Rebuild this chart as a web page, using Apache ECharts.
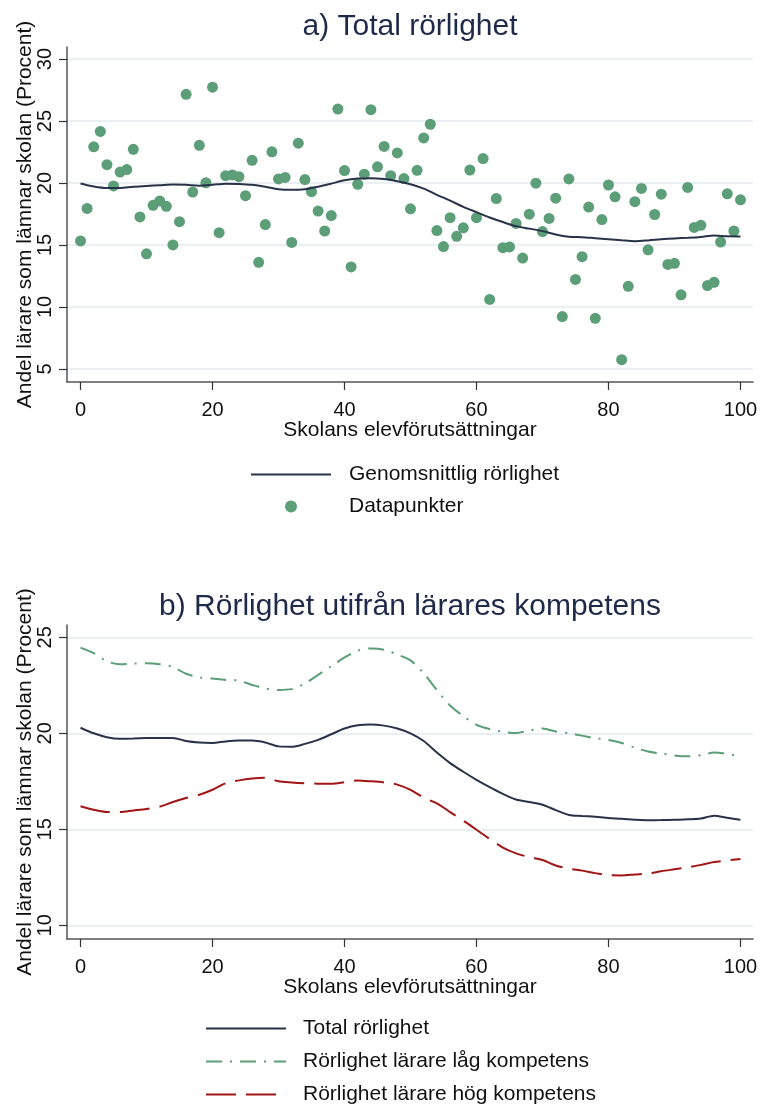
<!DOCTYPE html>
<html>
<head>
    <meta charset="utf-8" />
    <title></title>
    <script src="https://cdn.jsdelivr.net/npm/echarts@6/dist/echarts.min.js"></script>
    <style>
        html, body { margin: 0; padding: 0; background: #fff; }
    </style>
</head>
<body>
    <div id="main" style="width: 760px; height: 1106px;"></div>
    <script type="text/javascript">
        // värden
        var xTicks = [0, 20, 40, 60, 80, 100];
        var yTicksA = [5, 10, 15, 20, 25, 30];
        var yTicksB = [10, 15, 20, 25];

        // a) datapunkter, en skola per x-värde 0..100
        var punkterX = [];
        for (var i = 0; i <= 100; i++) punkterX.push(i);
        var punkterY = [
            15.33, 17.95, 22.92, 24.16, 21.48, 19.76, 20.88, 21.08, 22.72, 17.26,
            14.29, 18.2, 18.55, 18.12, 15.01, 16.88, 27.15, 19.27, 23.04, 20.02,
            27.73, 15.99, 20.59, 20.65, 20.51, 18.98, 21.83, 13.6, 16.65, 22.52,
            20.33, 20.45, 15.21, 23.21, 20.28, 19.3, 17.74, 16.13, 17.37, 25.97,
            21.0, 13.23, 19.9, 20.71, 25.91, 21.31, 22.95, 20.59, 22.43, 20.36,
            17.92, 21.02, 23.64, 24.74, 16.16, 14.87, 17.2, 15.7, 16.39, 21.05,
            17.2, 21.97, 10.61, 18.75, 14.78, 14.84, 16.74, 13.95, 17.49, 19.99,
            16.08, 17.14, 18.78, 9.23, 20.33, 12.22, 14.06, 18.06, 9.09, 17.05,
            19.84, 18.89, 5.75, 11.67, 18.49, 19.56, 14.61, 17.46, 19.1, 13.43,
            13.52, 10.98, 19.64, 16.42, 16.59, 11.73, 11.99, 15.24, 19.13, 16.13,
            18.64
        ];

        // linjer, x i steg om 2
        var linjeX = [];
        for (var j = 0; j <= 100; j += 2) linjeX.push(j);
        var snittA = [
            19.96, 19.72, 19.6, 19.6, 19.7, 19.76, 19.82, 19.88, 19.85, 19.78,
            19.85, 19.95, 19.92, 19.85, 19.7, 19.5, 19.45, 19.5, 19.7, 19.95,
            20.22, 20.36, 20.39, 20.32, 20.15, 19.9, 19.55, 19.05, 18.58, 18.08,
            17.65, 17.22, 16.85, 16.52, 16.32, 16.12, 15.85, 15.67, 15.63, 15.55,
            15.47, 15.38, 15.31, 15.37, 15.46, 15.53, 15.58, 15.65, 15.77, 15.7,
            15.69
        ];
        var totalB = [
            20.29, 20.0, 19.8, 19.72, 19.73, 19.75, 19.76, 19.76, 19.6, 19.52,
            19.5, 19.58, 19.62, 19.62, 19.52, 19.32, 19.3, 19.45, 19.66, 19.95,
            20.25, 20.42, 20.46, 20.4, 20.25, 20.0, 19.6, 19.0, 18.45, 18.0,
            17.58, 17.2, 16.85, 16.55, 16.42, 16.28, 16.0, 15.75, 15.7, 15.65,
            15.59, 15.55, 15.5, 15.47, 15.48, 15.5, 15.52, 15.56, 15.71, 15.6,
            15.5
        ];
        var lagB = [
            24.46, 24.17, 23.75, 23.6, 23.63, 23.65, 23.6, 23.45, 23.1, 22.92,
            22.85, 22.78, 22.74, 22.52, 22.33, 22.26, 22.3, 22.6, 23.04, 23.5,
            23.95, 24.3, 24.42, 24.35, 24.1, 23.8, 23.13, 22.25, 21.45, 20.9,
            20.44, 20.22, 20.08, 20.02, 20.15, 20.25, 20.1, 20.0, 19.88, 19.75,
            19.65, 19.5, 19.25, 19.05, 18.95, 18.85, 18.8, 18.86, 19.0, 18.92,
            18.8
        ];
        var hogB = [
            16.2, 16.02, 15.9, 15.9, 15.98, 16.06, 16.18, 16.42, 16.63, 16.8,
            17.06, 17.4, 17.55, 17.65, 17.69, 17.5, 17.44, 17.4, 17.38, 17.37,
            17.45, 17.54, 17.5, 17.44, 17.33, 17.05, 16.65, 16.35, 15.9, 15.45,
            14.98, 14.5, 14.05, 13.75, 13.55, 13.4, 13.12, 12.95, 12.85, 12.72,
            12.61, 12.6, 12.65, 12.7, 12.82, 12.92, 13.02, 13.15, 13.3, 13.38,
            13.46
        ];

        function par(xs, ys) {
            var out = [];
            for (var k = 0; k < xs.length; k++) out.push([xs[k], ys[k]]);
            return out;
        }

        var navy = '#283248';
        var gron = '#5b9e78';
        var rod = '#a01414';
        var font = '"Liberation Sans", Arial, sans-serif';
        // ingen markör i legendens linjeikon
        var utanMarkor = { color: 'rgba(0,0,0,0)', borderWidth: 0, opacity: 0 };

        function xAxel(gridIndex) {
            return {
                gridIndex: gridIndex,
                type: 'value',
                min: -2.05,
                max: 101.9,
                name: 'Skolans elevförutsättningar',
                nameLocation: 'middle',
                nameGap: 38,
                nameMoveOverlap: false,
                nameTextStyle: { fontSize: 21, color: '#111', fontFamily: font },
                axisLine: { show: true, onZero: false, lineStyle: { color: '#555', width: 1.5 } },
                axisTick: { show: true, customValues: xTicks, length: 8, lineStyle: { color: '#333', width: 1.2 } },
                axisLabel: { customValues: xTicks, fontSize: 20, color: '#111', margin: 18, fontFamily: font },
                splitLine: { show: false }
            };
        }

        function yAxel(gridIndex, min, max, ticks) {
            return {
                gridIndex: gridIndex,
                type: 'value',
                min: min,
                max: max,
                name: 'Andel lärare som lämnar skolan (Procent)',
                nameLocation: 'middle',
                nameGap: 31,
                nameMoveOverlap: false,
                nameTextStyle: { fontSize: 21, color: '#111', fontFamily: font },
                axisLine: { show: true, onZero: false, lineStyle: { color: '#555', width: 1.5 } },
                axisTick: { show: true, customValues: ticks, length: 8, lineStyle: { color: '#333', width: 1.2 } },
                axisLabel: { customValues: ticks, fontSize: 20, color: '#111', rotate: 90, margin: 12, fontFamily: font },
                splitLine: { show: true, lineStyle: { color: '#e9eff3', width: 2 } }
            };
        }

        var chart = echarts.init(document.getElementById('main'));
        var option = {
            backgroundColor: '#ffffff',
            animation: false,
            title: [
                {
                    text: 'a) Total rörlighet',
                    left: 405, top: 7, textAlign: 'center',
                    textStyle: { fontSize: 30, fontWeight: 'normal', color: '#1f2a4a', fontFamily: font }
                },
                {
                    text: 'b) Rörlighet utifrån lärares kompetens',
                    left: 405, top: 587, textAlign: 'center',
                    textStyle: { fontSize: 30, fontWeight: 'normal', color: '#1f2a4a', fontFamily: font }
                }
            ],
            grid: [
                { left: 67, right: 7, top: 47, height: 335, outerBoundsMode: 'none' },
                { left: 67, right: 7, top: 625, height: 314, outerBoundsMode: 'none' }
            ],
            xAxis: [xAxel(0), xAxel(1)],
            yAxis: [
                yAxel(0, 3.95, 30.97, yTicksA),
                yAxel(1, 9.29, 25.64, yTicksB)
            ],
            legend: [
                {
                    orient: 'vertical',
                    left: 250, top: 464, padding: 0,
                    itemWidth: 80, itemHeight: 12, itemGap: 11,
                    textStyle: { fontSize: 21, color: '#111', fontFamily: font, padding: [0, 0, 0, 13] },
                    data: [
                        { name: 'Genomsnittlig rörlighet', itemStyle: utanMarkor },
                        { name: 'Datapunkter' }
                    ]
                },
                {
                    orient: 'vertical',
                    left: 205, top: 1018, padding: 0,
                    itemWidth: 80, itemHeight: 12, itemGap: 12,
                    textStyle: { fontSize: 21, color: '#111', fontFamily: font, padding: [0, 0, 0, 12] },
                    data: [
                        { name: 'Total rörlighet', itemStyle: utanMarkor },
                        { name: 'Rörlighet lärare låg kompetens', itemStyle: utanMarkor },
                        { name: 'Rörlighet lärare hög kompetens', itemStyle: utanMarkor }
                    ]
                }
            ],
            series: [
                {
                    name: 'Genomsnittlig rörlighet',
                    type: 'line', xAxisIndex: 0, yAxisIndex: 0,
                    data: par(linjeX, snittA),
                    symbol: 'none', smooth: 0.3, z: 3,
                    lineStyle: { color: navy, width: 2 },
                    itemStyle: { color: navy }
                },
                {
                    name: 'Datapunkter',
                    type: 'scatter', xAxisIndex: 0, yAxisIndex: 0,
                    data: par(punkterX, punkterY),
                    symbol: 'circle', symbolSize: 11, z: 2,
                    itemStyle: { color: gron, opacity: 1 }
                },
                {
                    name: 'Total rörlighet',
                    type: 'line', xAxisIndex: 1, yAxisIndex: 1,
                    data: par(linjeX, totalB),
                    symbol: 'none', smooth: 0.3,
                    lineStyle: { color: navy, width: 2 },
                    itemStyle: { color: navy }
                },
                {
                    name: 'Rörlighet lärare låg kompetens',
                    type: 'line', xAxisIndex: 1, yAxisIndex: 1,
                    data: par(linjeX, lagB),
                    symbol: 'none', smooth: 0.3,
                    lineStyle: { color: gron, width: 2, type: [16, 8, 2, 8] },
                    itemStyle: { color: gron }
                },
                {
                    name: 'Rörlighet lärare hög kompetens',
                    type: 'line', xAxisIndex: 1, yAxisIndex: 1,
                    data: par(linjeX, hogB),
                    symbol: 'none', smooth: 0.3,
                    lineStyle: { color: rod, width: 2, type: [30, 10] },
                    itemStyle: { color: rod }
                }
            ]
        };
        chart.setOption(option);
    </script>
</body>
</html>
